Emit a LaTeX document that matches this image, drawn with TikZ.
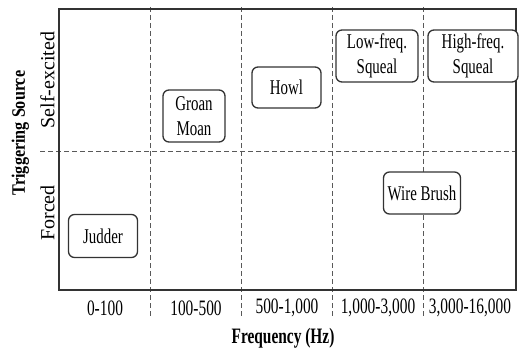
\documentclass[tikz,border=0pt]{standalone}
\usepackage{fontspec}
\setmainfont{Liberation Serif}
\newfontfamily\narrowfont{Liberation Serif}[FakeStretch=0.71]
\newfontfamily\ticksfont{Liberation Serif}[FakeStretch=0.70]
\newfontfamily\ytitlefont{Liberation Serif}[FakeStretch=0.85]
\begin{document}
\begin{tikzpicture}[x=1pt,y=-1pt,
  frame/.style={draw=black!80, line width=1.3pt},
  grid/.style={draw=black!65, line width=0.9pt, dash pattern=on 5pt off 3pt},
  cat/.style={draw=black!80, line width=1.3pt, rounded corners=6pt, inner sep=0pt,
    align=center, font=\narrowfont\fontsize{21}{25}\selectfont},
  tick/.style={font=\ticksfont\fontsize{22}{24}\selectfont, inner sep=0pt},
  ylab/.style={rotate=90, font=\fontsize{20}{22}\selectfont, inner sep=0pt},
  axtitle/.style={font=\ytitlefont\bfseries\fontsize{19}{21}\selectfont, inner sep=0pt}]
\useasboundingbox (0,0) rectangle (525,350);
% grid lines
\coordinate (v1t) at (150,7);   \coordinate (v1b) at (150,318);
\coordinate (v2t) at (241,7);   \coordinate (v2b) at (241,318);
\coordinate (v3t) at (332,7);   \coordinate (v3b) at (332,318);
\coordinate (v4t) at (423,7);   \coordinate (v4b) at (423,318);
\coordinate (hl) at (40,151);   \coordinate (hr) at (517,151);
\draw[grid] (v1t) -- (v1b);
\draw[grid] (v2t) -- (v2b);
\draw[grid] (v3t) -- (v3b);
\draw[grid] (v4t) -- (v4b);
\draw[grid] (hl) -- (hr);
% frame
\coordinate (fa) at (59,9); \coordinate (fb) at (516,290);
\draw[frame] (fa) rectangle (fb);
% boxes
\node[cat, fill=white, minimum width=62pt, minimum height=52pt] (groan) at (194,116) {Groan\\Moan};
\node[cat, fill=white, minimum width=69pt, minimum height=41pt] (howl) at (286.5,87.5) {Howl};
\node[cat, fill=white, minimum width=82pt, minimum height=52pt] (lowsq) at (377,56) {Low-freq.\\Squeal};
\node[cat, fill=white, minimum width=90pt, minimum height=52pt] (highsq) at (473,56) {High-freq.\\Squeal};
\node[cat, fill=white, minimum width=77pt, minimum height=42pt] (wire) at (422,193) {Wire Brush};
\node[cat, fill=white, minimum width=69pt, minimum height=43pt] (judder) at (103,236) {Judder};
% tick labels
\node[tick] (t1) at (105,308) {0-100};
\node[tick] (t2) at (196,308) {100-500};
\node[tick] (t3) at (287,308) {500-1,000};
\node[tick] (t4) at (378,308) {1,000-3,000};
\node[tick] (t5) at (470,308) {3,000-16,000};
% axis titles
\node[font=\ticksfont\bfseries\fontsize{22}{24}\selectfont, inner sep=0pt] (xt) at (283,338) {Frequency (Hz)};
\node[ylab] (se) at (47.5,80) {Self-excited};
\node[ylab] (fo) at (47.5,213) {Forced};
\node[axtitle, rotate=90] (yt) at (20.5,133) {Triggering Source};
\end{tikzpicture}
\end{document}
